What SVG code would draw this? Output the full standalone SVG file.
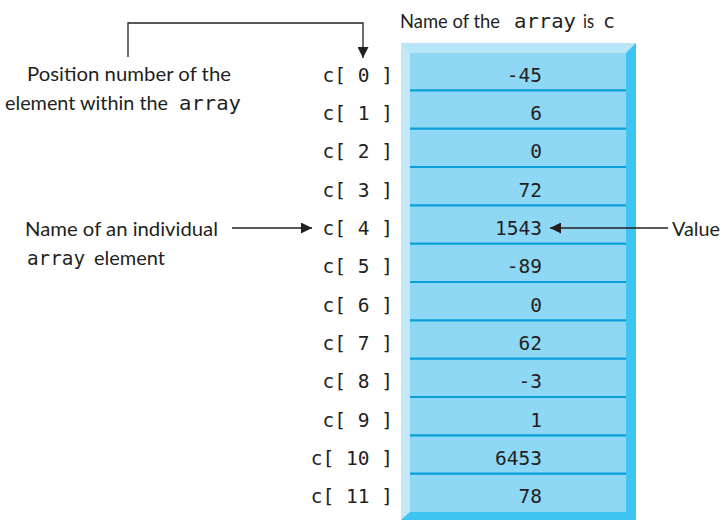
<svg xmlns="http://www.w3.org/2000/svg" width="728" height="525" viewBox="0 0 728 525">
<defs>
<marker id="ah" viewBox="0 0 10 10" refX="10" refY="5" markerWidth="17" markerHeight="11" markerUnits="userSpaceOnUse" orient="auto">
<path d="M0,0 L10,5 L0,10 z" fill="#231f20"/>
</marker>
<style>
.s{font-family:Lato,"Liberation Sans",sans-serif;font-size:20px;fill:#231f20}
.m{font-family:"DejaVu Sans Mono","Liberation Mono",monospace;font-size:19.5px;fill:#231f20}
.v{font-family:"DejaVu Sans Mono","Liberation Mono",monospace;font-size:19.5px;fill:#231f20;text-anchor:end}
.sep{stroke:#0b9fda;stroke-width:2.2}
.ln{stroke:#231f20;stroke-width:1.3;fill:none}
</style>
</defs>
<g id="array-frame">
<rect x="401" y="43" width="235" height="477" fill="#8ed8f6"/>
<polygon points="401,43 636,43 626,53 410,53" fill="#b9e5f8"/>
<polygon points="401,43 410,53 410,512 401,520" fill="#c2e8f9"/>
<polygon points="636,43 636,520 626,512 626,53" fill="#3ec4f1"/>
<polygon points="401,520 636,520 626,512 410,512" fill="#3ec4f1"/>
<rect x="410" y="53" width="216" height="459" fill="#8ed8f6"/>
<g class="sep">
<line x1="410" y1="90.3" x2="626" y2="90.3"/>
<line x1="410" y1="128.7" x2="626" y2="128.7"/>
<line x1="410" y1="167" x2="626" y2="167"/>
<line x1="410" y1="205.3" x2="626" y2="205.3"/>
<line x1="410" y1="243.7" x2="626" y2="243.7"/>
<line x1="410" y1="282" x2="626" y2="282"/>
<line x1="410" y1="320.3" x2="626" y2="320.3"/>
<line x1="410" y1="358.7" x2="626" y2="358.7"/>
<line x1="410" y1="397" x2="626" y2="397"/>
<line x1="410" y1="435.3" x2="626" y2="435.3"/>
<line x1="410" y1="473.7" x2="626" y2="473.7"/>
</g>
</g>
<g id="values">
<text class="v" x="542" y="81.5">-45</text>
<text class="v" x="542" y="119.8">6</text>
<text class="v" x="542" y="158.2">0</text>
<text class="v" x="542" y="196.5">72</text>
<text class="v" x="542" y="234.8">1543</text>
<text class="v" x="542" y="273.2">-89</text>
<text class="v" x="542" y="311.5">0</text>
<text class="v" x="542" y="349.8">62</text>
<text class="v" x="542" y="388.2">-3</text>
<text class="v" x="542" y="426.5">1</text>
<text class="v" x="542" y="464.8">6453</text>
<text class="v" x="542" y="503.2">78</text>
</g>
<g id="indices">
<text class="v" x="393" y="81.5">c[ 0 ]</text>
<text class="v" x="393" y="119.8">c[ 1 ]</text>
<text class="v" x="393" y="158.2">c[ 2 ]</text>
<text class="v" x="393" y="196.5">c[ 3 ]</text>
<text class="v" x="393" y="234.8">c[ 4 ]</text>
<text class="v" x="393" y="273.2">c[ 5 ]</text>
<text class="v" x="393" y="311.5">c[ 6 ]</text>
<text class="v" x="393" y="349.8">c[ 7 ]</text>
<text class="v" x="393" y="388.2">c[ 8 ]</text>
<text class="v" x="393" y="426.5">c[ 9 ]</text>
<text class="v" x="393" y="464.8">c[ 10 ]</text>
<text class="v" x="393" y="503.2">c[ 11 ]</text>
</g>
<g id="title">
<text class="s" x="400" y="28" textLength="100" lengthAdjust="spacingAndGlyphs">Name of the</text>
<text class="m" x="514" y="28" textLength="62" lengthAdjust="spacingAndGlyphs">array</text>
<text class="s" x="583" y="28" textLength="11" lengthAdjust="spacingAndGlyphs">is</text>
<text class="m" x="603" y="28" textLength="12" lengthAdjust="spacingAndGlyphs">c</text>
</g>
<g id="label-position">
<text class="s" x="27" y="81" textLength="204" lengthAdjust="spacingAndGlyphs">Position number of the</text>
<text class="s" x="5" y="110" textLength="163" lengthAdjust="spacingAndGlyphs">element within the</text>
<text class="m" x="179" y="110" textLength="62" lengthAdjust="spacingAndGlyphs">array</text>
</g>
<g id="label-name">
<text class="s" x="25" y="236" textLength="193" lengthAdjust="spacingAndGlyphs">Name of an individual</text>
<text class="m" x="27" y="265" textLength="58" lengthAdjust="spacingAndGlyphs">array</text>
<text class="s" x="94" y="265" textLength="71" lengthAdjust="spacingAndGlyphs">element</text>
</g>
<g id="label-value">
<text class="s" x="672" y="236" textLength="48" lengthAdjust="spacingAndGlyphs">Value</text>
</g>
<g id="connectors">
<path class="ln" d="M128,57 L128,23 L363,23 L363,58" marker-end="url(#ah)"/>
<line class="ln" x1="232" y1="228" x2="312" y2="228" marker-end="url(#ah)"/>
<line class="ln" x1="668" y1="228" x2="550" y2="228" marker-end="url(#ah)"/>
</g>
</svg>
